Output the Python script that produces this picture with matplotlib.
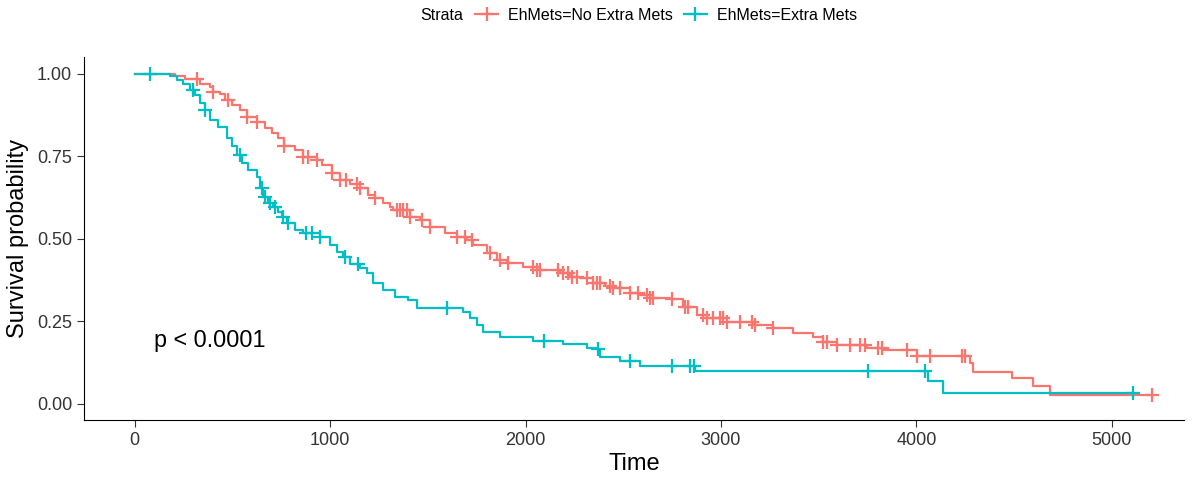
import matplotlib
matplotlib.use("Agg")
import matplotlib.pyplot as plt
from matplotlib.lines import Line2D
import numpy as np

plt.rcParams['font.family'] = ['Liberation Sans', 'DejaVu Sans']

# Kaplan-Meier step points (time, survival)
no_extra_t = [0, 205, 256, 333, 384, 399, 435, 461, 497, 538, 573, 625, 666, 701,
              732, 763, 819, 860, 932, 957, 1009, 1050, 1101, 1152, 1193, 1229,
              1270, 1306, 1321, 1408, 1459, 1510, 1587, 1649, 1700, 1731, 1802,
              1853, 1905, 1987, 2058, 2176, 2227, 2278, 2345, 2406, 2447, 2534,
              2586, 2637, 2739, 2806, 2877, 2929, 3031, 3164, 3267, 3369, 3471,
              3523, 3594, 3748, 3830, 4004, 4275, 4291, 4490, 4598, 4685, 5207]
no_extra_s = [1.0, 0.994, 0.985, 0.970, 0.961, 0.945, 0.939, 0.921, 0.906, 0.891,
              0.870, 0.855, 0.836, 0.821, 0.806, 0.782, 0.770, 0.748, 0.739, 0.724,
              0.700, 0.679, 0.667, 0.655, 0.633, 0.624, 0.609, 0.597, 0.588, 0.567,
              0.558, 0.536, 0.518, 0.506, 0.497, 0.482, 0.458, 0.436, 0.427, 0.415,
              0.406, 0.397, 0.385, 0.382, 0.367, 0.358, 0.352, 0.336, 0.330, 0.321,
              0.318, 0.294, 0.270, 0.261, 0.248, 0.239, 0.230, 0.215, 0.203, 0.188,
              0.179, 0.170, 0.161, 0.145, 0.124, 0.097, 0.076, 0.052, 0.027, 0.027]
no_extra_cens = [317, 399, 476, 573, 625, 763, 860, 886, 932, 1009, 1050, 1080,
                 1137, 1152, 1229, 1341, 1357, 1372, 1393, 1408, 1469, 1510, 1649,
                 1690, 1725, 1818, 1869, 1910, 2038, 2058, 2074, 2166, 2191, 2217,
                 2237, 2263, 2314, 2345, 2365, 2381, 2432, 2447, 2483, 2534, 2575,
                 2621, 2637, 2652, 2749, 2816, 2831, 2908, 2929, 2959, 2995, 3011,
                 3031, 3098, 3159, 3174, 3267, 3523, 3543, 3594, 3661, 3712, 3738,
                 3804, 3825, 3953, 4004, 4070, 4234, 4250, 5207]

extra_t = [0, 179, 215, 246, 282, 307, 333, 358, 384, 425, 471, 497, 522,
           548, 579, 625, 640, 655, 681, 707, 732, 753, 778, 819, 860, 947, 998,
           1034, 1065, 1101, 1152, 1188, 1219, 1270, 1331, 1398, 1444, 1679,
           1715, 1751, 1782, 1869, 2038, 2191, 2314, 2365, 2381, 2483, 2586,
           2867, 4060, 4137, 5110]
extra_s = [1.0, 0.994, 0.982, 0.970, 0.952, 0.936, 0.912, 0.891, 0.861, 0.839,
           0.806, 0.782, 0.755, 0.730, 0.709, 0.688, 0.655, 0.627, 0.609, 0.597,
           0.582, 0.567, 0.548, 0.527, 0.518, 0.506, 0.482, 0.461, 0.445, 0.424,
           0.412, 0.397, 0.367, 0.345, 0.324, 0.315, 0.291, 0.279, 0.261, 0.239,
           0.218, 0.203, 0.191, 0.182, 0.170, 0.164, 0.142, 0.130, 0.115, 0.100,
           0.067, 0.033, 0.033]
extra_cens = [77, 297, 358, 538, 650, 666, 691, 717, 758, 783, 876, 906, 947,
              1075, 1142, 1597, 2094, 2370, 2534, 2749, 2842, 2862, 3753, 4045, 5110]

red = '#F8766D'
teal = '#00BFC4'


def surv_at(times, surv, t):
    i = np.searchsorted(times, t, side='right') - 1
    return np.array(surv)[i]


fig = plt.figure(figsize=(12.02, 4.8), dpi=100)
ax = fig.add_axes([84 / 1202, 60 / 480, 1100 / 1202, 362.5 / 480])

for t, s, c, cens in [(no_extra_t, no_extra_s, red, no_extra_cens),
                      (extra_t, extra_s, teal, extra_cens)]:
    ax.step(t, s, where='post', color=c, lw=1.6)
    ax.plot(cens, surv_at(t, s, cens), ls='none', marker='+', ms=10, mew=1.6, color=c)

ax.text(100, 0.19, 'p < 0.0001', fontsize=16.8, ha='left', va='center')

ax.set_xlim(-260, 5370)
ax.set_ylim(-0.05, 1.05)
ax.set_xticks([0, 1000, 2000, 3000, 4000, 5000])
ax.set_yticks([0, 0.25, 0.5, 0.75, 1.0])
ax.set_yticklabels(['0.00', '0.25', '0.50', '0.75', '1.00'])
ax.tick_params(labelsize=13, labelcolor='#333333', length=5, color='#333333')
ax.spines['top'].set_visible(False)
ax.spines['right'].set_visible(False)
ax.set_xlabel('Time', fontsize=17, labelpad=3)
ax.set_ylabel('Survival probability', fontsize=17, labelpad=6)

handles = [Line2D([], [], color=red, lw=1.6, marker='+', ms=10, mew=1.6),
           Line2D([], [], color=teal, lw=1.6, marker='+', ms=10, mew=1.6)]
fig.text(420 / 1202, 1 - 15 / 480, 'Strata', fontsize=11.5, ha='left', va='center')
fig.legend(handles, ['EhMets=No Extra Mets', 'EhMets=Extra Mets'], ncol=2,
           loc='center left', bbox_to_anchor=(475 / 1202, 1 - 15 / 480),
           frameon=False, fontsize=11.5, handlelength=1.45, columnspacing=0.7,
           handletextpad=0.6, borderpad=0, borderaxespad=0)

fig.savefig('out.png', dpi=100)
